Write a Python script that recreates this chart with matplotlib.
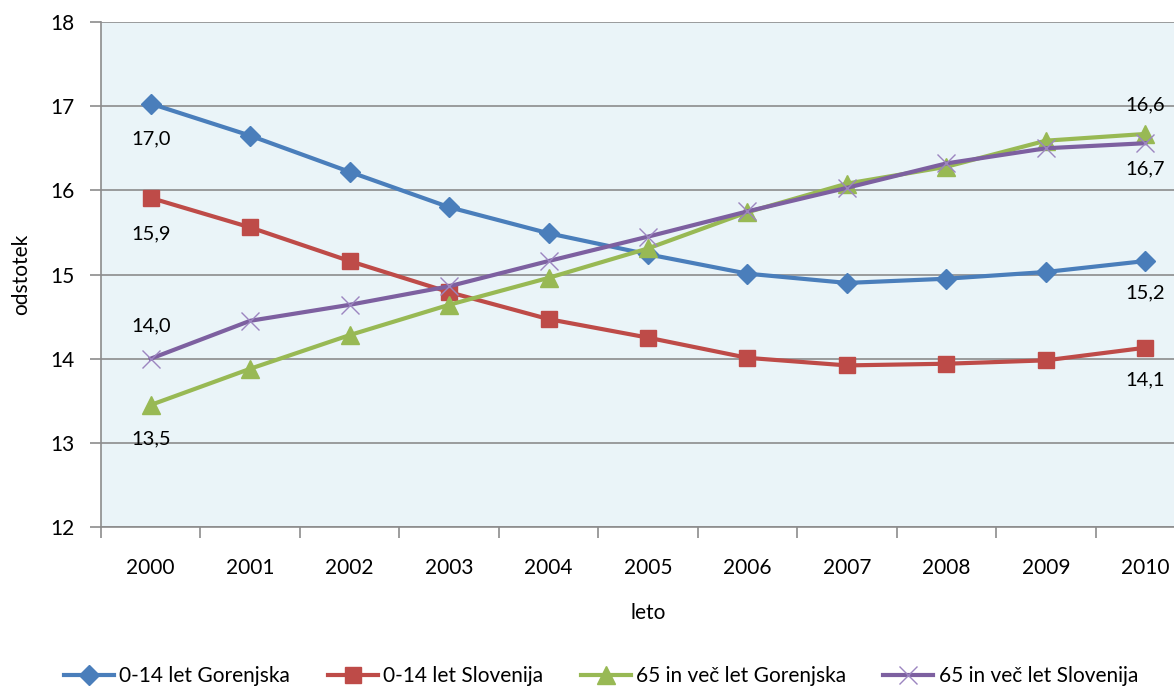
import matplotlib.pyplot as plt
import numpy as np

plt.rcParams['font.family'] = ['Lato', 'DejaVu Sans']

years = ['2000', '2001', '2002', '2003', '2004', '2005', '2006', '2007', '2008', '2009', '2010']
gor_0_14 = [17.03, 16.65, 16.22, 15.80, 15.49, 15.24, 15.01, 14.90, 14.95, 15.03, 15.16]
slo_0_14 = [15.91, 15.56, 15.16, 14.79, 14.47, 14.25, 14.01, 13.92, 13.94, 13.98, 14.13]
gor_65 = [13.45, 13.88, 14.28, 14.64, 14.96, 15.31, 15.74, 16.08, 16.28, 16.59, 16.67]
slo_65 = [14.00, 14.45, 14.64, 14.86, 15.16, 15.45, 15.75, 16.03, 16.32, 16.50, 16.56]
names = ['0-14 let Gorenjska', '0-14 let Slovenija', '65 in več let Gorenjska', '65 in več let Slovenija']

blue, red, green, purple = '#4a7ebb', '#be4b48', '#98b954', '#7d60a0'
x = np.arange(len(years))

fig = plt.figure(figsize=(11.74, 6.88), dpi=100)
ax = fig.add_axes([0.0860, 0.234, 0.9319, 0.734])
ax.set_facecolor('#eaf4f8')

ax.plot(x, gor_0_14, color=blue, lw=3, marker='D', ms=10, label=names[0])
ax.plot(x, slo_0_14, color=red, lw=3, marker='s', ms=12, label=names[1])
ax.plot(x, gor_65, color=green, lw=3, marker='^', ms=13, label=names[2])
ax.plot(x, slo_65, color=purple, lw=3, marker='x', ms=13, mew=1, mec='#9c85c0', label=names[3])

# data labels at first and last year
lab = dict(fontsize=14.5, ha='center', va='center', color='black')
ax.text(x[0], gor_0_14[0] - 0.42, '17,0', **lab)
ax.text(x[0], slo_0_14[0] - 0.43, '15,9', **lab)
ax.text(x[0], slo_65[0] + 0.39, '14,0', **lab)
ax.text(x[0], gor_65[0] - 0.40, '13,5', **lab)
ax.text(x[-1], gor_65[-1] + 0.35, '16,6', **lab)
ax.text(x[-1], slo_65[-1] - 0.30, '16,7', **lab)
ax.text(x[-1], gor_0_14[-1] - 0.38, '15,2', **lab)
ax.text(x[-1], slo_0_14[-1] - 0.38, '14,1', **lab)

ax.set_xlim(-0.5, 10.5)
ax.set_ylim(12, 18)
ax.set_yticks(np.arange(12, 18.1, 1))
ax.yaxis.grid(True, color='#8c8c8c', lw=1.2)
ax.set_axisbelow(True)

ax.set_xticks(np.arange(-0.5, 10.6, 1))
ax.set_xticklabels([])
ax.set_xticks(x, minor=True)
ax.set_xticklabels(years, minor=True)
ax.tick_params(axis='x', which='major', length=8, color='#8c8c8c', width=1.2)
ax.tick_params(axis='x', which='minor', length=0, pad=22, labelsize=15)
ax.tick_params(axis='y', length=8, color='#8c8c8c', width=1.2, labelsize=15, pad=11)

for s in ['top', 'right']:
    ax.spines[s].set_visible(False)
for s in ['left', 'bottom']:
    ax.spines[s].set_color('#8c8c8c')
    ax.spines[s].set_linewidth(1.2)

ax.set_xlabel('leto', fontsize=15, labelpad=18)
ax.set_ylabel('odstotek', fontsize=15, labelpad=14)

fig.legend(loc='center', bbox_to_anchor=(0.512, 0.017), ncol=4, frameon=False,
           fontsize=15, handlelength=2.4, columnspacing=1.8, handletextpad=0.25)

fig.savefig('out.png', dpi=100)
